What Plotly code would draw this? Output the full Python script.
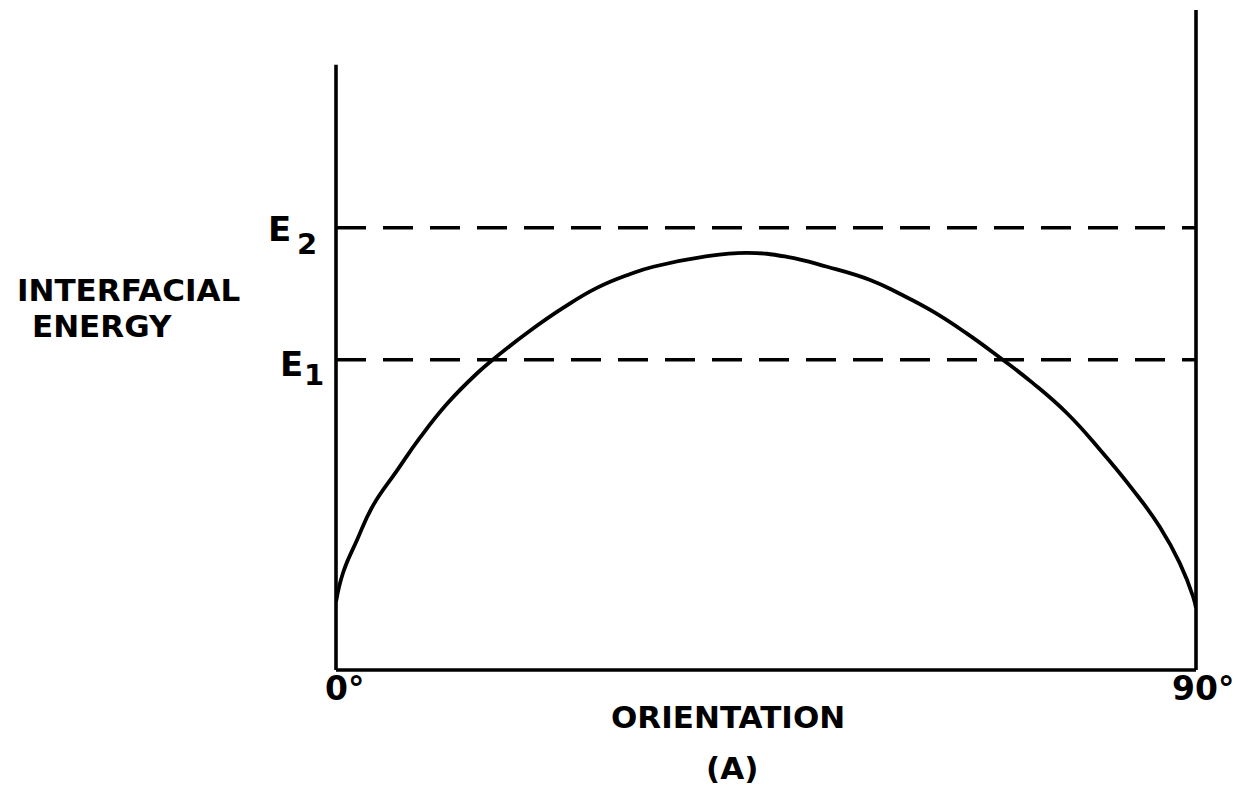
import plotly.graph_objects as go

# Data (orientation in degrees, interfacial energy in arbitrary units)
orientation = [0, 0.73, 2.2, 3.87, 6.38, 8.79, 11.6, 14.8, 16.4, 20.3, 23.8, 27.3, 30.8,
               33.2, 38.4, 43.0, 47.2, 51.4, 55.9, 59.0, 62.5, 66.0, 69.5, 72.9, 76.5,
               80.0, 83.4, 86.2, 88.3, 89.7, 90]
energy = [10.3, 14.7, 19.7, 24.9, 30.2, 35.2, 40.3, 45.0, 47.0, 51.4, 54.9, 57.9, 60.0,
          61.1, 62.6, 63.2, 62.6, 61.1, 59.1, 57.0, 54.3, 51.0, 47.3, 43.5, 38.9,
          33.3, 27.3, 21.7, 16.2, 11.1, 9.4]
E1 = 47.0
E2 = 67.0
x_range = [0, 90]
y_range = [0, 100]
left_axis_top = 91.7
right_line_top = 100

FONT = "DejaVu Sans"
INK = "black"

fig = go.Figure()

# Curve
fig.add_trace(go.Scatter(x=orientation, y=energy, mode="lines",
                         line=dict(color=INK, width=3.8, shape="spline", smoothing=1.3),
                         hoverinfo="skip", showlegend=False))

# Dashed energy levels
for lvl in (E2, E1):
    fig.add_trace(go.Scatter(x=x_range, y=[lvl, lvl], mode="lines",
                             line=dict(color=INK, width=3.4, dash="30px,17px"),
                             hoverinfo="skip", showlegend=False))

# Frame lines (paper-referenced so they are not clipped)
def yfrac(v):
    return (v - y_range[0]) / (y_range[1] - y_range[0])

frame = dict(color=INK, width=3.6)
fig.add_shape(type="line", xref="paper", yref="paper", x0=0, x1=0, y0=0, y1=yfrac(left_axis_top), line=frame)
fig.add_shape(type="line", xref="paper", yref="paper", x0=0, x1=1, y0=0, y1=0, line=frame)
fig.add_shape(type="line", xref="paper", yref="paper", x0=1, x1=1, y0=0, y1=yfrac(right_line_top), line=frame)

def px(xp):
    return (xp - 336) / 860.0

def py(yp):
    return (670 - yp) / 660.0

def ann(text, x, y, size, weight="bold"):
    fig.add_annotation(text=text, x=px(x), y=py(y), xref="paper", yref="paper",
                       showarrow=False, xanchor="center", yanchor="middle",
                       font=dict(family=FONT, size=size, color=INK, weight=weight))

ann("INTERFACIAL", 128, 290, 31)
ann("ENERGY", 102, 326, 31)
ann("E", 279, 229, 34)
ann("2", 307, 244, 29)
ann("E", 291, 364, 34)
ann("1", 314, 375, 29)
ann("0°", 344, 688, 33)
ann("90°", 1203, 688, 33)
ann("ORIENTATION", 728, 717, 31)
ann("(A)", 732, 768, 31)

fig.update_layout(
    width=1233, height=783,
    margin=dict(l=328, r=45, t=2, b=121),
    paper_bgcolor="white", plot_bgcolor="white",
    xaxis=dict(range=x_range, visible=False, fixedrange=True),
    yaxis=dict(range=y_range, visible=False, fixedrange=True),
)

fig.write_html("out.html")
